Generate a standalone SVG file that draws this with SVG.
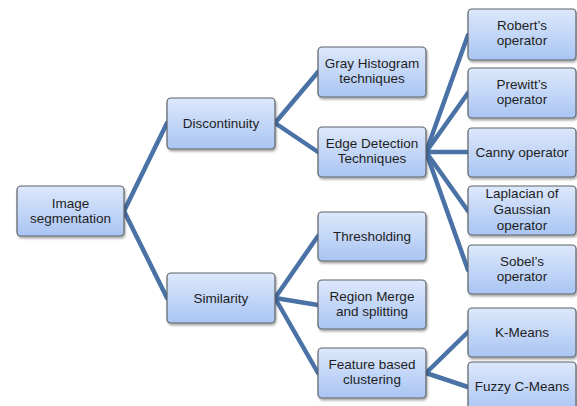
<svg xmlns="http://www.w3.org/2000/svg" width="577" height="406" viewBox="0 0 577 406">
<defs>
<linearGradient id="g" x1="0" y1="0" x2="0" y2="1">
<stop offset="0" stop-color="#dde8fb"/>
<stop offset="1" stop-color="#a9c5f3"/>
</linearGradient>
<filter id="sh" x="-10%" y="-10%" width="125%" height="130%">
<feDropShadow dx="1" dy="2" stdDeviation="1.2" flood-color="#000" flood-opacity="0.35"/>
</filter>
</defs>
<style>
.n rect{fill:url(#g);stroke:#5f6368;stroke-width:1.2;filter:url(#sh)}
.n text{font-family:"Liberation Sans",Arial,sans-serif;font-size:13.5px;fill:#1e1e1e;text-anchor:middle}
#edges path{stroke:#4a72a6;stroke-width:4.5;fill:none;stroke-linecap:round}
</style>
<rect width="577" height="406" fill="#fff"/>
<g id="edges">
<path d="M124 211L167 123"/>
<path d="M124 211L167 298"/>
<path d="M275 123L318 72"/>
<path d="M275 123L318 152"/>
<path d="M275 298L318 236"/>
<path d="M275 298L318 305"/>
<path d="M275 298L318 373"/>
<path d="M426 152L468 35"/>
<path d="M426 152L468 93"/>
<path d="M426 152L468 152"/>
<path d="M426 152L468 211"/>
<path d="M426 152L468 270"/>
<path d="M426 373L468 332"/>
<path d="M426 373L468 387"/>
</g>
<g id="image-segmentation" class="n"><rect x="17" y="186" width="107" height="50" rx="4"/><text x="70.5" y="208">Image</text><text x="70.5" y="223">segmentation</text></g>
<g id="discontinuity" class="n"><rect x="167" y="98" width="108" height="51" rx="4"/><text x="221" y="128">Discontinuity</text></g>
<g id="similarity" class="n"><rect x="167" y="273" width="108" height="50" rx="4"/><text x="221" y="303">Similarity</text></g>
<g id="gray-histogram" class="n"><rect x="318" y="47" width="108" height="50" rx="4"/><text x="372" y="68">Gray Histogram</text><text x="372" y="83">techniques</text></g>
<g id="edge-detection" class="n"><rect x="318" y="127" width="108" height="50" rx="4"/><text x="372" y="148">Edge Detection</text><text x="372" y="163">Techniques</text></g>
<g id="thresholding" class="n"><rect x="318" y="212" width="108" height="49" rx="4"/><text x="372" y="241">Thresholding</text></g>
<g id="region-merge" class="n"><rect x="318" y="280" width="108" height="49" rx="4"/><text x="372" y="301">Region Merge</text><text x="372" y="316">and splitting</text></g>
<g id="feature-based" class="n"><rect x="318" y="348" width="108" height="50" rx="4"/><text x="372" y="369">Feature based</text><text x="372" y="384">clustering</text></g>
<g id="roberts" class="n"><rect x="468" y="9" width="108" height="51" rx="4"/><text x="522" y="30">Robert’s</text><text x="522" y="45">operator</text></g>
<g id="prewitts" class="n"><rect x="468" y="68" width="108" height="50" rx="4"/><text x="522" y="89">Prewitt’s</text><text x="522" y="104">operator</text></g>
<g id="canny" class="n"><rect x="468" y="128" width="108" height="49" rx="4"/><text x="522" y="157">Canny operator</text></g>
<g id="laplacian" class="n"><rect x="468" y="186" width="108" height="49" rx="4"/><text x="522" y="198">Laplacian of</text><text x="522" y="214">Gaussian</text><text x="522" y="230">operator</text></g>
<g id="sobels" class="n"><rect x="468" y="245" width="108" height="49" rx="4"/><text x="522" y="266">Sobel’s</text><text x="522" y="281">operator</text></g>
<g id="k-means" class="n"><rect x="468" y="308" width="108" height="49" rx="4"/><text x="522" y="337">K-Means</text></g>
<g id="fuzzy-c-means" class="n"><rect x="468" y="362" width="108" height="50" rx="4"/><text x="522" y="391">Fuzzy C-Means</text></g>
</svg>
